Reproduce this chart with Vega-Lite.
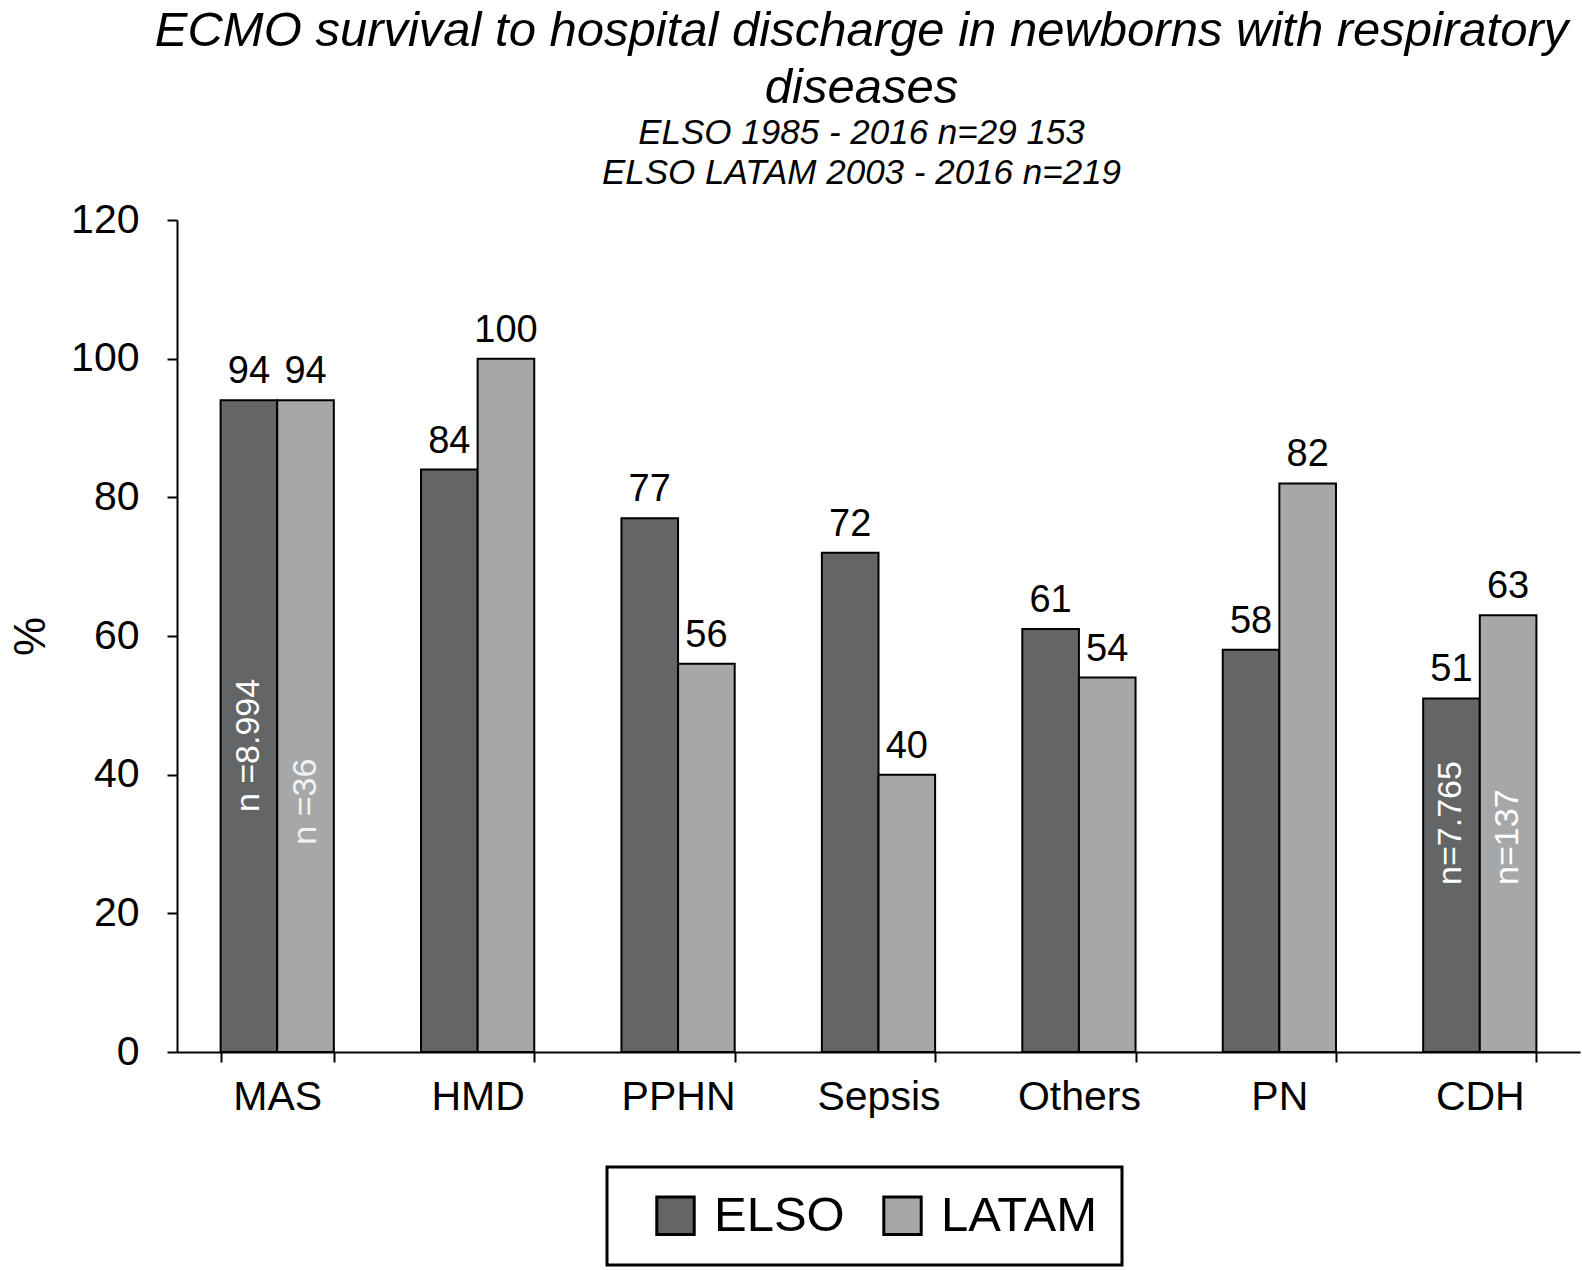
{
  "$schema": "https://vega.github.io/schema/vega-lite/v6.json",
  "autosize": {"type": "none"},
  "padding": {"left": 177, "top": 220, "right": 2, "bottom": 218},
  "width": 1403,
  "height": 832,
  "background": "white",
  "config": {
    "font": "Liberation Sans",
    "view": {"stroke": null},
    "axis": {"grid": false}
  },
  "title": {
    "text": ["ECMO survival to hospital discharge in newborns with respiratory", "diseases"],
    "subtitle": ["ELSO 1985 - 2016 n=29 153", "ELSO LATAM 2003 - 2016 n=219"],
    "fontSize": 49,
    "fontStyle": "italic",
    "fontWeight": "normal",
    "color": "black",
    "lineHeight": 57,
    "subtitleFontSize": 35,
    "subtitleFontStyle": "italic",
    "subtitleColor": "black",
    "subtitleLineHeight": 40,
    "subtitlePadding": 3,
    "anchor": "middle",
    "dx": -17,
    "offset": 8
  },
  "data": {
    "values": [
      {"category": "MAS", "group": "ELSO", "value": 94},
      {"category": "MAS", "group": "LATAM", "value": 94},
      {"category": "HMD", "group": "ELSO", "value": 84},
      {"category": "HMD", "group": "LATAM", "value": 100},
      {"category": "PPHN", "group": "ELSO", "value": 77},
      {"category": "PPHN", "group": "LATAM", "value": 56},
      {"category": "Sepsis", "group": "ELSO", "value": 72},
      {"category": "Sepsis", "group": "LATAM", "value": 40},
      {"category": "Others", "group": "ELSO", "value": 61},
      {"category": "Others", "group": "LATAM", "value": 54},
      {"category": "PN", "group": "ELSO", "value": 58},
      {"category": "PN", "group": "LATAM", "value": 82},
      {"category": "CDH", "group": "ELSO", "value": 51},
      {"category": "CDH", "group": "LATAM", "value": 63}
    ]
  },
  "encoding": {
    "x": {
      "field": "category",
      "type": "nominal",
      "sort": ["MAS", "HMD", "PPHN", "Sepsis", "Others", "PN", "CDH"],
      "scale": {"paddingInner": 0.435, "paddingOuter": 0.2175},
      "axis": {
        "title": null,
        "labelAngle": 0,
        "labelFontSize": 41,
        "labelColor": "black",
        "labelPadding": 15,
        "tickBand": "extent",
        "tickSize": 10,
        "tickColor": "black",
        "tickWidth": 2,
        "domainColor": "black",
        "domainWidth": 2
      }
    },
    "xOffset": {
      "field": "group",
      "type": "nominal",
      "sort": ["ELSO", "LATAM"],
      "scale": {"paddingInner": 0, "paddingOuter": 0}
    }
  },
  "layer": [
    {
      "mark": {"type": "bar", "stroke": "black", "strokeWidth": 2},
      "encoding": {
        "y": {
          "field": "value",
          "type": "quantitative",
          "scale": {"domain": [0, 120], "nice": false},
          "axis": {
            "title": "%",
            "titleFontSize": 44,
            "titleFontWeight": "normal",
            "titleColor": "black",
            "titlePadding": 17,
            "values": [0, 20, 40, 60, 80, 100, 120],
            "labelFontSize": 41,
            "labelColor": "black",
            "labelPadding": 28,
            "tickSize": 10,
            "tickColor": "black",
            "tickWidth": 2,
            "domainColor": "black",
            "domainWidth": 2
          }
        },
        "color": {
          "field": "group",
          "type": "nominal",
          "sort": ["ELSO", "LATAM"],
          "scale": {"domain": ["ELSO", "LATAM"], "range": ["#646567", "#a6a7a9"]},
          "legend": {
            "title": null,
            "orient": "none",
            "legendX": 430,
            "legendY": 947,
            "direction": "horizontal",
            "labelFontSize": 49,
            "labelColor": "black",
            "labelOffset": 14,
            "symbolType": "square",
            "symbolSize": 1400,
            "symbolStrokeColor": "black",
            "symbolStrokeWidth": 3,
            "symbolOpacity": 1,
            "symbolOffset": 20,
            "columnPadding": 13,
            "padding": 24,
            "strokeColor": "black",
            "encode": {"legend": {"update": {"strokeWidth": {"value": 3}}}}
          }
        }
      }
    },
    {
      "mark": {"type": "text", "baseline": "alphabetic", "dy": -17, "fontSize": 38, "color": "black"},
      "encoding": {
        "y": {"field": "value", "type": "quantitative"},
        "text": {"field": "value", "type": "quantitative"}
      }
    },
    {
      "data": {"values": [{"category": "MAS", "group": "ELSO", "label": "n =8.994"}]},
      "mark": {"type": "text", "angle": 270, "align": "left", "baseline": "middle", "fontSize": 34, "color": "white"},
      "encoding": {"y": {"datum": 34.6, "type": "quantitative"}, "text": {"field": "label"}}
    },
    {
      "data": {"values": [{"category": "MAS", "group": "LATAM", "label": "n =36"}]},
      "mark": {"type": "text", "angle": 270, "align": "left", "baseline": "middle", "fontSize": 34, "color": "#f2f2f2"},
      "encoding": {"y": {"datum": 29.9, "type": "quantitative"}, "text": {"field": "label"}}
    },
    {
      "data": {"values": [{"category": "CDH", "group": "ELSO", "label": "n=7.765"}, {"category": "CDH", "group": "LATAM", "label": "n=137"}]},
      "mark": {"type": "text", "angle": 270, "align": "left", "baseline": "middle", "fontSize": 34, "color": "white"},
      "encoding": {"y": {"datum": 24.1, "type": "quantitative"}, "text": {"field": "label"}}
    }
  ]
}
